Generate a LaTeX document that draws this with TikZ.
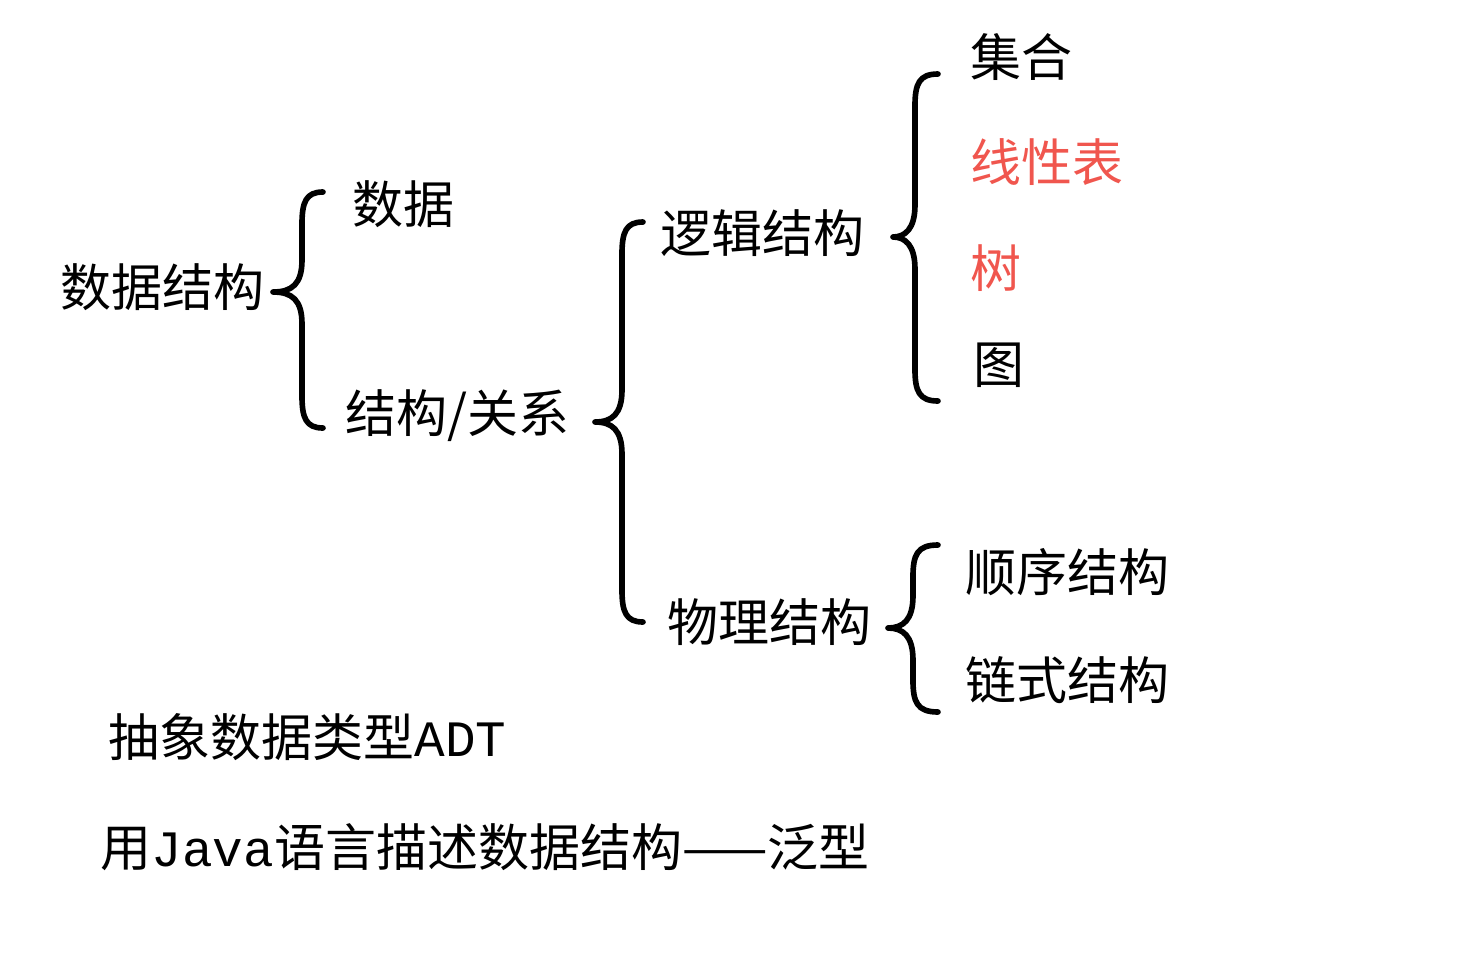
\documentclass[tikz,border=0pt]{standalone}
\usepackage{fontspec}
\setmainfont{Noto Sans CJK SC}
\newfontfamily\latinmono{Liberation Mono}
\definecolor{hotred}{RGB}{240,86,78}
\usepackage{tikz}
\usetikzlibrary{
    positioning
}
\tikzstyle{term} = [
    inner sep=0pt,
    anchor=west,
    font=\fontsize{14.5}{17}\selectfont
]
\tikzstyle{hotterm} = [
    term,
    text=hotred
]
\tikzstyle{bracket} = [
    line width=1.6pt,
    line cap=round,
    line join=round,
    draw=black
]
% curly brace: right x, stem x, tip x, top y, tip y, bottom y
\newcommand{\curly}[6]{%
    \draw[bracket] (#1,#4) .. controls (#2+4,#4) and (#2,#4+10) .. (#2,#4+32)
        -- (#2,#5-32) .. controls (#2,#5-8) and (#2-10,#5) .. (#3,#5)
        .. controls (#2-10,#5) and (#2,#5+8) .. (#2,#5+32)
        -- (#2,#6-32) .. controls (#2,#6-10) and (#2+4,#6) .. (#1,#6);}

\begin{document}
\begin{tikzpicture}[x=0.01cm, y=-0.01cm]
    \useasboundingbox (0,0) rectangle (1465,972);
    % level 1
    \node[term] (ds) at (60,287) {数据结构};
    \curly{323}{302}{273}{192}{292}{428}
    \node[term] (data) at (352,204) {数据};
    \node[term] (rel) at (345,416) {结构/关系};
    % level 2
    \curly{643}{622}{595}{222}{422}{622}
    \node[term] (logic) at (660,233) {逻辑结构};
    \node[term] (phys) at (667,622) {物理结构};
    % logical kinds
    \curly{938}{915}{893}{74}{237}{401}
    \node[term] (set) at (970,57) {集合};
    \node[hotterm] (list) at (970,162) {线性表};
    \node[hotterm] (tree) at (970,268) {树};
    \node[term] (graph) at (973,365) {图};
    % physical kinds
    \curly{938}{913}{888}{545}{628}{712}
    \node[term] (seq) at (965,572) {顺序结构};
    \node[term] (link) at (965,680) {链式结构};
    % notes
    \node[term] (adt) at (108,737) {抽象数据类型{\latinmono ADT}};
    \node[term] (java) at (100,847) {用{\latinmono Java}语言描述数据结构——泛型};
\end{tikzpicture}
\end{document}
